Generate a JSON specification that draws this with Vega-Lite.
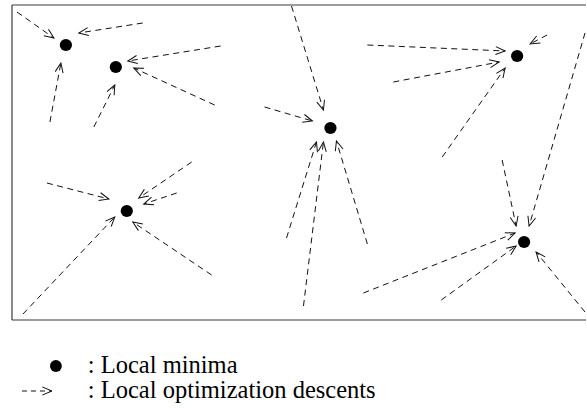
{
  "$schema": "https://vega.github.io/schema/vega-lite/v6.json",
  "width": 587,
  "height": 408,
  "padding": 0,
  "autosize": {"type": "fit", "contains": "padding"},
  "background": "white",
  "config": {"view": {"stroke": null}},
  "datasets": {
    "frame": [
      {"x": 12, "y": 5, "x2": 587, "y2": 5},
      {"x": 12, "y": 5, "x2": 12, "y2": 320},
      {"x": 12, "y": 320, "x2": 587, "y2": 320}
    ],
    "arrows": [
      {"to": "m1", "x": 17, "y": 12, "x2": 54, "y2": 38},
      {"to": "m1", "x": 143, "y": 23, "x2": 79, "y2": 33},
      {"to": "m1", "x": 50, "y": 122, "x2": 61, "y2": 63},
      {"to": "m2", "x": 221, "y": 46, "x2": 128, "y2": 61},
      {"to": "m2", "x": 215, "y": 105, "x2": 134, "y2": 68},
      {"to": "m2", "x": 94, "y": 127, "x2": 115, "y2": 85},
      {"to": "m3", "x": 292, "y": 6, "x2": 324, "y2": 110},
      {"to": "m3", "x": 265, "y": 107, "x2": 313, "y2": 121},
      {"to": "m3", "x": 287, "y": 238, "x2": 317, "y2": 142},
      {"to": "m3", "x": 304, "y": 306, "x2": 324, "y2": 142},
      {"to": "m3", "x": 368, "y": 244, "x2": 337, "y2": 141},
      {"to": "m4", "x": 368, "y": 45, "x2": 506, "y2": 51},
      {"to": "m4", "x": 394, "y": 82, "x2": 500, "y2": 62},
      {"to": "m4", "x": 548, "y": 35, "x2": 531, "y2": 44},
      {"to": "m4", "x": 443, "y": 157, "x2": 506, "y2": 68},
      {"to": "m6", "x": 586, "y": 33, "x2": 530, "y2": 226},
      {"to": "m6", "x": 503, "y": 160, "x2": 517, "y2": 226},
      {"to": "m6", "x": 364, "y": 293, "x2": 516, "y2": 233},
      {"to": "m6", "x": 442, "y": 300, "x2": 517, "y2": 246},
      {"to": "m6", "x": 586, "y": 312, "x2": 537, "y2": 252},
      {"to": "m5", "x": 47, "y": 183, "x2": 109, "y2": 199},
      {"to": "m5", "x": 192, "y": 162, "x2": 139, "y2": 198},
      {"to": "m5", "x": 177, "y": 193, "x2": 144, "y2": 204},
      {"to": "m5", "x": 212, "y": 275, "x2": 133, "y2": 222},
      {"to": "m5", "x": 23, "y": 314, "x2": 115, "y2": 217}
    ],
    "minima": [
      {"id": "m1", "x": 66, "y": 45},
      {"id": "m2", "x": 116, "y": 67},
      {"id": "m3", "x": 331, "y": 128},
      {"id": "m4", "x": 518, "y": 56},
      {"id": "m5", "x": 127, "y": 211},
      {"id": "m6", "x": 525, "y": 242}
    ],
    "legendDot": [{"x": 56, "y": 366}],
    "legendArrow": [{"x": 22, "y": 391, "x2": 52, "y2": 391}],
    "legendText": [
      {"x": 88, "y": 373, "label": ": Local minima"},
      {"x": 88, "y": 398, "label": ": Local optimization descents"}
    ]
  },
  "encoding": {
    "x": {"field": "x", "type": "quantitative", "axis": null, "scale": {"domain": [0, 587], "nice": false, "zero": false}},
    "y": {"field": "y", "type": "quantitative", "axis": null, "scale": {"domain": [0, 408], "nice": false, "zero": false, "reverse": true}}
  },
  "layer": [
    {
      "data": {"name": "frame"},
      "mark": {"type": "rule", "stroke": "#3a3a3a", "strokeWidth": 1.2},
      "encoding": {"x2": {"field": "x2"}, "y2": {"field": "y2"}}
    },
    {
      "data": {"name": "arrows"},
      "mark": {"type": "rule", "stroke": "#111", "strokeWidth": 1, "strokeDash": [6, 4.5]},
      "encoding": {"x2": {"field": "x2"}, "y2": {"field": "y2"}}
    },
    {
      "data": {"name": "arrows"},
      "transform": [{"calculate": "atan2(datum.y2 - datum.y, datum.x2 - datum.x) * 180 / PI", "as": "ang"}],
      "mark": {"type": "point", "shape": "M-1,-0.42L0,0L-1,0.42", "filled": false, "stroke": "#111", "strokeWidth": 1, "size": 361, "opacity": 1},
      "encoding": {
        "x": {"field": "x2", "type": "quantitative"},
        "y": {"field": "y2", "type": "quantitative"},
        "angle": {"field": "ang", "type": "quantitative", "scale": null}
      }
    },
    {
      "data": {"name": "minima"},
      "mark": {"type": "point", "shape": "circle", "filled": true, "fill": "black", "opacity": 1, "size": 150}
    },
    {
      "data": {"name": "legendDot"},
      "mark": {"type": "point", "shape": "circle", "filled": true, "fill": "black", "opacity": 1, "size": 140}
    },
    {
      "data": {"name": "legendArrow"},
      "mark": {"type": "rule", "stroke": "#111", "strokeWidth": 1, "strokeDash": [5, 4]},
      "encoding": {"x2": {"field": "x2"}, "y2": {"field": "y2"}}
    },
    {
      "data": {"name": "legendArrow"},
      "transform": [{"calculate": "atan2(datum.y2 - datum.y, datum.x2 - datum.x) * 180 / PI", "as": "ang"}],
      "mark": {"type": "point", "shape": "M-1,-0.42L0,0L-1,0.42", "filled": false, "stroke": "#111", "strokeWidth": 1, "size": 361, "opacity": 1},
      "encoding": {
        "x": {"field": "x2", "type": "quantitative"},
        "y": {"field": "y2", "type": "quantitative"},
        "angle": {"field": "ang", "type": "quantitative", "scale": null}
      }
    },
    {
      "data": {"name": "legendText"},
      "mark": {"type": "text", "align": "left", "baseline": "alphabetic", "font": "Liberation Serif", "fontSize": 24.5, "color": "black"},
      "encoding": {"text": {"field": "label"}}
    }
  ]
}
